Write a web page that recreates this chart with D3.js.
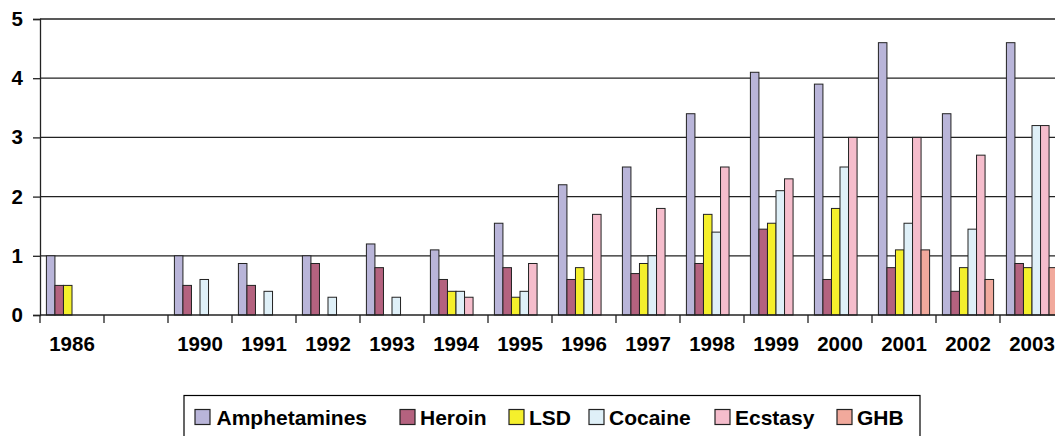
<!DOCTYPE html>
<html><head><meta charset="utf-8">
<script src="https://cdn.jsdelivr.net/npm/d3@7"></script>
<style>body{margin:0;background:#fff}svg{display:block}text{font-family:"Liberation Sans",Arial,sans-serif;font-weight:bold;fill:#000}</style>
</head><body>
<svg id="c" width="1055" height="436"></svg>
<script>
const categories = ["1986", "", "1990", "1991", "1992", "1993", "1994", "1995", "1996", "1997", "1998", "1999", "2000", "2001", "2002", "2003"];
const seriesNames = ["Amphetamines", "Heroin", "LSD", "Cocaine", "Ecstasy", "GHB"];
const seriesColors = ["#B9B5D9", "#B4627F", "#F5F02C", "#DFF0F8", "#F5BDCC", "#F1A99C"];
const amphetamines = [1.0, null, 1.0, 0.87, 1.0, 1.2, 1.1, 1.55, 2.2, 2.5, 3.4, 4.1, 3.9, 4.6, 3.4, 4.6];
const heroin       = [0.5, null, 0.5, 0.5, 0.87, 0.8, 0.6, 0.8, 0.6, 0.7, 0.87, 1.45, 0.6, 0.8, 0.4, 0.87];
const lsd          = [0.5, null, null, null, null, null, 0.4, 0.3, 0.8, 0.87, 1.7, 1.55, 1.8, 1.1, 0.8, 0.8];
const cocaine      = [null, null, 0.6, 0.4, 0.3, 0.3, 0.4, 0.4, 0.6, 1.0, 1.4, 2.1, 2.5, 1.55, 1.45, 3.2];
const ecstasy      = [null, null, null, null, null, null, 0.3, 0.87, 1.7, 1.8, 2.5, 2.3, 3.0, 3.0, 2.7, 3.2];
const ghb          = [null, null, null, null, null, null, null, null, null, null, null, null, null, 1.1, 0.6, 0.8];
const yTicks = [0, 1, 2, 3, 4, 5];

const seriesValues = [amphetamines, heroin, lsd, cocaine, ecstasy, ghb];
const svg = d3.select("#c");
const pLeft = 40, pRight = 1064, pTop = 19, pBottom = 315;

const x0 = d3.scaleBand().domain(d3.range(categories.length)).range([pLeft, pRight]).paddingInner(0.2).paddingOuter(0.1);
const x1 = d3.scaleBand().domain(d3.range(seriesNames.length)).range([0, x0.bandwidth()]);
const y = d3.scaleLinear().domain([0, 5]).range([pBottom, pTop]);

// gridlines
svg.append("g").selectAll("line").data(yTicks.filter(d => d > 0)).join("line")
  .attr("x1", pLeft).attr("x2", pRight).attr("y1", d => y(d)).attr("y2", d => y(d))
  .attr("stroke", "#222").attr("stroke-width", 1.3);

// bars
const groups = svg.append("g").selectAll("g").data(categories).join("g")
  .attr("transform", (d, i) => `translate(${x0(i)},0)`);
groups.selectAll("rect").data((d, i) => seriesValues.map((s, k) => ({k, v: s[i]})).filter(o => o.v != null)).join("rect")
  .attr("x", o => x1(o.k)).attr("width", x1.bandwidth())
  .attr("y", o => y(o.v)).attr("height", o => y(0) - y(o.v))
  .attr("fill", o => seriesColors[o.k]).attr("stroke", "#222").attr("stroke-width", 1);

// y axis
const yAxis = svg.append("g").attr("transform", `translate(${pLeft},0)`)
  .call(d3.axisLeft(y).tickValues(yTicks).tickFormat(d3.format("d")).tickSize(7).tickPadding(10));
yAxis.select(".domain").attr("stroke", "#222").attr("stroke-width", 1.3);
yAxis.selectAll(".tick line").attr("stroke", "#222").attr("stroke-width", 1.3);
yAxis.selectAll(".tick text").attr("font-size", 20.5).attr("font-family", "Liberation Sans, Arial, sans-serif").attr("font-weight", "bold").attr("fill", "#000");

// x axis
const xb = d3.scaleLinear().domain([0, categories.length]).range([pLeft, pRight]);
const xAxisG = svg.append("g");
xAxisG.append("line").attr("x1", pLeft).attr("x2", pRight).attr("y1", pBottom).attr("y2", pBottom)
  .attr("stroke", "#222").attr("stroke-width", 1.3);
xAxisG.selectAll("line.t").data(d3.range(categories.length + 1)).join("line").attr("class", "t")
  .attr("x1", d => xb(d)).attr("x2", d => xb(d)).attr("y1", pBottom).attr("y2", pBottom + 8)
  .attr("stroke", "#222").attr("stroke-width", 1.3);
xAxisG.selectAll("text").data(categories).join("text")
  .attr("x", (d, i) => x0(i) + x0.bandwidth() / 2).attr("y", 351)
  .attr("text-anchor", "middle").attr("font-size", 20.5).text(d => d);

// legend
const lg = svg.append("g");
lg.append("rect").attr("x", 184).attr("y", 395.5).attr("width", 736).attr("height", 60)
  .attr("fill", "none").attr("stroke", "#000").attr("stroke-width", 1.2);
const legX = [195, 400, 509, 589, 715, 837];
const items = lg.selectAll("g").data(seriesNames).join("g")
  .attr("transform", (d, i) => `translate(${legX[i]},409.5)`);
items.append("rect").attr("width", 15).attr("height", 15)
  .attr("fill", (d, i) => seriesColors[i]).attr("stroke", "#222").attr("stroke-width", 1.2);
items.append("text").attr("x", d => d === "Amphetamines" ? 21.5 : 20).attr("y", 15.5).attr("font-size", 21).text(d => d);
</script>
</body></html>
